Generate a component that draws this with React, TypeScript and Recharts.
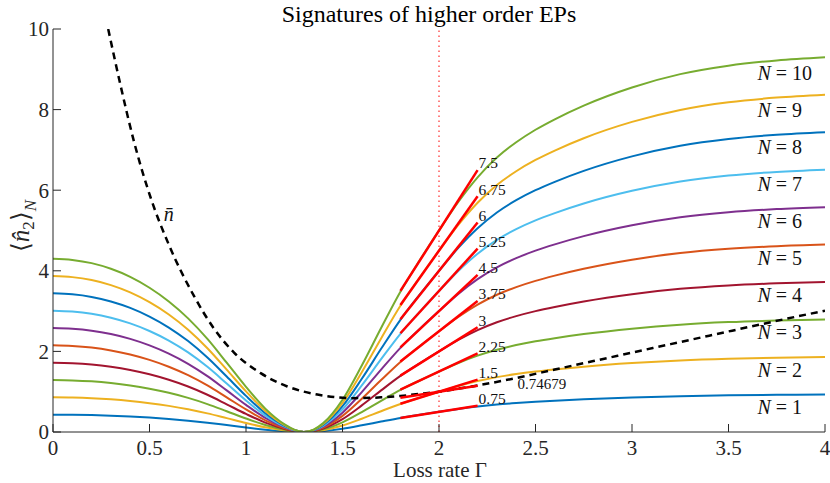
import React from 'react';
import { ComposedChart, Line, XAxis, YAxis, ReferenceLine } from 'recharts';

// ---------- data ----------
const gamma = [0, 0.1, 0.2, 0.3, 0.4, 0.5, 0.6, 0.7, 0.8, 0.9, 1.0, 1.1, 1.2, 1.25, 1.3, 1.35, 1.4, 1.5, 1.6, 1.7, 1.8, 1.9, 2.0, 2.1, 2.2, 2.3, 2.4, 2.5, 2.6, 2.75, 3.0, 3.25, 3.5, 3.75, 4.0];

const n1 = [0.43, 0.427, 0.419, 0.405, 0.385, 0.358, 0.324, 0.282, 0.231, 0.172, 0.112, 0.058, 0.019, 0.006, 0, 0.006, 0.022, 0.08, 0.165, 0.258, 0.348, 0.426, 0.5, 0.571, 0.632, 0.681, 0.719, 0.75, 0.776, 0.81, 0.855, 0.888, 0.909, 0.922, 0.93];
const n2 = [0.86, 0.854, 0.838, 0.81, 0.77, 0.716, 0.648, 0.564, 0.462, 0.344, 0.224, 0.116, 0.038, 0.012, 0, 0.012, 0.044, 0.16, 0.33, 0.516, 0.696, 0.852, 1.0, 1.142, 1.264, 1.362, 1.438, 1.5, 1.552, 1.62, 1.71, 1.776, 1.818, 1.844, 1.86];
const n3 = [1.29, 1.281, 1.257, 1.215, 1.155, 1.074, 0.972, 0.846, 0.693, 0.516, 0.336, 0.174, 0.057, 0.018, 0, 0.018, 0.066, 0.24, 0.495, 0.774, 1.044, 1.278, 1.5, 1.713, 1.896, 2.043, 2.157, 2.25, 2.328, 2.43, 2.565, 2.664, 2.727, 2.766, 2.79];
const n4 = [1.72, 1.708, 1.676, 1.62, 1.54, 1.432, 1.296, 1.128, 0.924, 0.688, 0.448, 0.232, 0.076, 0.024, 0, 0.024, 0.088, 0.32, 0.66, 1.032, 1.392, 1.704, 2.0, 2.284, 2.528, 2.724, 2.876, 3.0, 3.104, 3.24, 3.42, 3.552, 3.636, 3.688, 3.72];
const n5 = [2.15, 2.135, 2.095, 2.025, 1.925, 1.79, 1.62, 1.41, 1.155, 0.86, 0.56, 0.29, 0.095, 0.03, 0, 0.03, 0.11, 0.4, 0.825, 1.29, 1.74, 2.13, 2.5, 2.855, 3.16, 3.405, 3.595, 3.75, 3.88, 4.05, 4.275, 4.44, 4.545, 4.61, 4.65];
const n6 = [2.58, 2.562, 2.514, 2.43, 2.31, 2.148, 1.944, 1.692, 1.386, 1.032, 0.672, 0.348, 0.114, 0.036, 0, 0.036, 0.132, 0.48, 0.99, 1.548, 2.088, 2.556, 3.0, 3.426, 3.792, 4.086, 4.314, 4.5, 4.656, 4.86, 5.13, 5.328, 5.454, 5.532, 5.58];
const n7 = [3.01, 2.989, 2.933, 2.835, 2.695, 2.506, 2.268, 1.974, 1.617, 1.204, 0.784, 0.406, 0.133, 0.042, 0, 0.042, 0.154, 0.56, 1.155, 1.806, 2.436, 2.982, 3.5, 3.997, 4.424, 4.767, 5.033, 5.25, 5.432, 5.67, 5.985, 6.216, 6.363, 6.454, 6.51];
const n8 = [3.44, 3.416, 3.352, 3.24, 3.08, 2.864, 2.592, 2.256, 1.848, 1.376, 0.896, 0.464, 0.152, 0.048, 0, 0.048, 0.176, 0.64, 1.32, 2.064, 2.784, 3.408, 4.0, 4.568, 5.056, 5.448, 5.752, 6.0, 6.208, 6.48, 6.84, 7.104, 7.272, 7.376, 7.44];
const n9 = [3.87, 3.843, 3.771, 3.645, 3.465, 3.222, 2.916, 2.538, 2.079, 1.548, 1.008, 0.522, 0.171, 0.054, 0, 0.054, 0.198, 0.72, 1.485, 2.322, 3.132, 3.834, 4.5, 5.139, 5.688, 6.129, 6.471, 6.75, 6.984, 7.29, 7.695, 7.992, 8.181, 8.298, 8.37];
const n10 = [4.3, 4.27, 4.19, 4.05, 3.85, 3.58, 3.24, 2.82, 2.31, 1.72, 1.12, 0.58, 0.19, 0.06, 0, 0.06, 0.22, 0.8, 1.65, 2.58, 3.48, 4.26, 5.0, 5.71, 6.32, 6.81, 7.19, 7.5, 7.76, 8.1, 8.55, 8.88, 9.09, 9.22, 9.3];

const seriesValues = [n1, n2, n3, n4, n5, n6, n7, n8, n9, n10];
const seriesNames = ['1', '2', '3', '4', '5', '6', '7', '8', '9', '10'];
const seriesColors = ['#0072BD', '#EDB120', '#77AC30', '#A2142F', '#D95319', '#7E2F8E', '#4DBEEE', '#0072BD', '#EDB120', '#77AC30'];

// mean photon number curve (dashed)
const nbarGamma = [0.286, 0.35, 0.42, 0.507, 0.6, 0.731, 0.835, 0.938, 1.076, 1.214, 1.37, 1.55, 1.7, 1.8, 1.9, 2.0, 2.1, 2.2, 2.4, 2.6, 2.8, 3.0, 3.2, 3.4, 3.6, 3.8, 4.0];
const nbarValues = [10.0, 8.6, 7.2, 5.8, 4.65, 3.37, 2.56, 1.97, 1.46, 1.13, 0.93, 0.84, 0.86, 0.895, 0.945, 1.0, 1.075, 1.155, 1.34, 1.55, 1.76, 1.97, 2.18, 2.39, 2.6, 2.81, 3.01];

// tangent segments at Gamma = 2
const tangentGamma = [1.8, 2.2];
const tangentStart = [0.35, 0.7, 1.05, 1.4, 1.75, 2.1, 2.45, 2.8, 3.15, 3.5];
const tangentEnd = [0.65, 1.3, 1.95, 2.6, 3.25, 3.9, 4.55, 5.2, 5.85, 6.5];
const tangentLabels = ['0.75', '1.5', '2.25', '3', '3.75', '4.5', '5.25', '6', '6.75', '7.5'];
const nbarTangentStart = 0.85;
const nbarTangentEnd = 1.15;
const nbarTangentLabel = '0.74679';

// curve name labels
const curveLabelGamma = 3.65;
const curveLabelValues = [0.63, 1.55, 2.47, 3.39, 4.31, 5.24, 6.16, 7.08, 8.0, 8.92];

const xTicks = [0, 0.5, 1, 1.5, 2, 2.5, 3, 3.5, 4];
const yTicks = [0, 2, 4, 6, 8, 10];

// ---------- derived tables ----------
const rows = gamma.map((g, i) => {
  const r: any = { g };
  seriesValues.forEach((s, k) => {
    r['n' + seriesNames[k]] = s[i];
  });
  return r;
});
const nbarData = nbarGamma.map((g, i) => ({ g, v: nbarValues[i] }));
const tangentData = tangentStart.map((s, k) => [
  { g: tangentGamma[0], v: s },
  { g: tangentGamma[1], v: tangentEnd[k] },
]);
const nbarTangentData = [
  { g: tangentGamma[0], v: nbarTangentStart },
  { g: tangentGamma[1], v: nbarTangentEnd },
];
const curveLabelData = curveLabelValues.map((v, k) => ({ g: curveLabelGamma, v, t: seriesNames[k] }));

const FONT = '"Liberation Serif", "Times New Roman", serif';
const AX = '#262626';

const XTick = (p: any) => (
  <text x={p.x} y={p.y} textAnchor="middle" dy="0.35em" fontSize={21} fontFamily={FONT} fill={AX}>
    {String(p.payload.value)}
  </text>
);
const YTick = (p: any) => (
  <text x={p.x} y={p.y} textAnchor="end" dy="0.35em" fontSize={21} fontFamily={FONT} fill={AX}>
    {String(p.payload.value)}
  </text>
);

export default function App() {
  return (
    <div style={{ position: 'absolute', left: 0, top: 0, width: 830, height: 483, background: '#fff' }}>
      <ComposedChart width={830} height={483} data={rows} margin={{ top: 29, right: 5, bottom: 0, left: 0 }}>
        <XAxis
          dataKey="g"
          type="number"
          domain={[0, 4]}
          ticks={xTicks}
          interval={0}
          allowDataOverflow
          height={51}
          tickSize={-8}
          tickMargin={24}
          tick={XTick}
          stroke={AX}
          tickLine={{ stroke: AX }}
        />
        <YAxis
          type="number"
          domain={[0, 10]}
          ticks={yTicks}
          interval={0}
          allowDataOverflow
          width={53}
          tickSize={-8}
          tickMargin={12}
          tick={YTick}
          stroke={AX}
          tickLine={{ stroke: AX }}
        />
        <ReferenceLine x={2} stroke="#ff0000" strokeWidth={1} strokeDasharray="1.5 3.5" ifOverflow="extendDomain" />
        {seriesNames.map((nm, k) => (
          <Line
            key={'n' + nm}
            dataKey={'n' + nm}
            type="monotone"
            stroke={seriesColors[k]}
            strokeWidth={2}
            dot={false}
            activeDot={false}
            isAnimationActive={false}
          />
        ))}
        <Line
          data={nbarData}
          dataKey="v"
          type="monotone"
          stroke="#000"
          strokeWidth={2.5}
          strokeDasharray="7 5"
          dot={false}
          activeDot={false}
          isAnimationActive={false}
        />
        {tangentData.map((d, k) => (
          <Line
            key={'t' + k}
            data={d}
            dataKey="v"
            type="linear"
            stroke="#ff0000"
            strokeWidth={2.5}
            activeDot={false}
            isAnimationActive={false}
            dot={(p: any) =>
              p.index === 1 ? (
                <text key={'tl' + k} x={p.cx + 1} y={p.cy - 7} dy="0.35em" fontSize={15.5} fontFamily={FONT} fill="#111">
                  {tangentLabels[k]}
                </text>
              ) : (
                <g key={'tg' + k} />
              )
            }
          />
        ))}
        <Line
          data={nbarTangentData}
          dataKey="v"
          type="linear"
          stroke="#ff0000"
          strokeWidth={2.5}
          activeDot={false}
          isAnimationActive={false}
          dot={(p: any) =>
            p.index === 1 ? (
              <text key="ntl" x={p.cx + 40} y={p.cy - 2} dy="0.35em" fontSize={15} fontFamily={FONT} fill="#111">
                {nbarTangentLabel}
              </text>
            ) : (
              <g key="ntg" />
            )
          }
        />
        <Line
          data={curveLabelData}
          dataKey="v"
          stroke="none"
          activeDot={false}
          isAnimationActive={false}
          dot={(p: any) => (
            <text key={'cl' + p.index} x={p.cx} y={p.cy} dy="0.35em" fontSize={20} fontFamily={FONT} fill="#111">
              <tspan fontStyle="italic">N</tspan>
              {' = ' + curveLabelData[p.index].t}
            </text>
          )}
        />
        <Line
          data={[{ g: 0.6, v: 5.42 }]}
          dataKey="v"
          stroke="none"
          activeDot={false}
          isAnimationActive={false}
          dot={(p: any) => (
            <text key="nbl" x={p.cx} y={p.cy} dy="0.35em" textAnchor="middle" fontSize={20} fontFamily={FONT} fontStyle="italic" fill="#111">
              {'n\u0304'}
            </text>
          )}
        />
      </ComposedChart>
      <svg width={830} height={483} style={{ position: 'absolute', left: 0, top: 0, pointerEvents: 'none' }}>
        <text x={429} y={22} textAnchor="middle" fontSize={24} fontFamily={FONT} fill="#000">
          Signatures of higher order EPs
        </text>
        <text x={440} y={477} textAnchor="middle" fontSize={21} fontFamily={FONT} fill={AX}>
          Loss rate Γ
        </text>
        <text transform="translate(29,226) rotate(-90)" textAnchor="middle" fontSize={25} fontFamily={FONT} fill={AX}>
          ⟨<tspan fontStyle="italic">{'n\u0302'}</tspan>
          <tspan fontSize={17} dy={5}>2</tspan>
          <tspan dy={-5}>⟩</tspan>
          <tspan fontSize={17} fontStyle="italic" dy={7}>N</tspan>
        </text>
      </svg>
    </div>
  );
}
